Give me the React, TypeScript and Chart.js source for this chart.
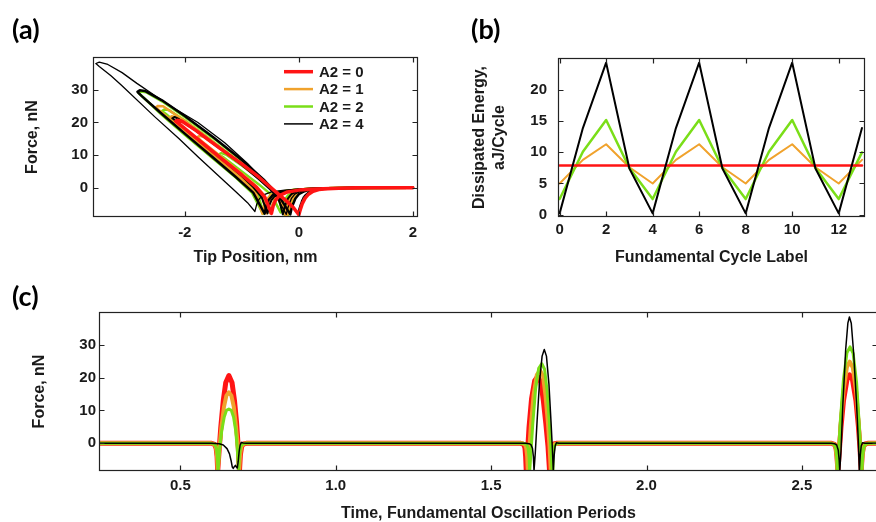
import React, { useEffect, useRef } from 'react';
import { Chart, registerables } from 'chart.js';

Chart.register(...registerables);

const FONT = "'Liberation Sans', Arial, sans-serif";
const INK = '#1a1a1a';
const RED = '#ff1414';
const ORANGE = '#f0a22c';
const GREEN = '#7ade18';
const BLACK = '#000000';

// ---------- Panel (a): force vs tip position loops [x nm, F nN] ----------
const seriesNames = ['A2 = 0', 'A2 = 1', 'A2 = 2', 'A2 = 4'];

const loopA0: number[][] = [
  [2.0, 0], [1.4, -0.02], [1.0, -0.06], [0.7, -0.15], [0.5, -0.3], [0.35, -0.6], [0.25, -1.1], [0.17, -2.0], [0.11, -3.2], [0.06, -4.9], [0.03, -6.5], [0.0, -8.3],
  [-0.1, -6.0], [-0.25, -3.6], [-0.45, -0.6], [-0.7, 3.2], [-1.0, 7.3], [-1.4, 12.3], [-1.8, 17.5], [-2.05, 20.4], [-2.13, 20.7], [-2.16, 20.4],
  [-2.1, 19.6], [-1.8, 15.3], [-1.4, 9.5], [-1.0, 3.9], [-0.75, 0.2], [-0.6, -2.8], [-0.48, -7.9],
  [-0.45, -5.6], [-0.41, -3.9], [-0.34, -2.4], [-0.2, -1.3], [0.0, -0.75], [0.3, -0.4], [0.7, -0.18], [1.2, -0.06], [2.0, 0],
];

const loopA1a: number[][] = [
  [2.0, 0], [1.0, -0.05], [0.5, -0.2], [0.2, -0.5], [0.05, -1.1], [-0.05, -2.0], [-0.11, -3.3], [-0.15, -5.0], [-0.18, -6.6], [-0.2, -8.3],
  [-0.32, -3.0], [-0.48, -0.3], [-0.7, 3.0], [-1.0, 7.0], [-1.4, 12.2], [-1.66, 15.5], [-1.74, 15.9], [-1.78, 15.5],
  [-1.72, 14.5], [-1.4, 10.0], [-1.0, 4.3], [-0.75, 0.5], [-0.6, -2.5], [-0.5, -7.9],
  [-0.47, -5.5], [-0.43, -3.8], [-0.36, -2.3], [-0.22, -1.3], [0.0, -0.7], [0.3, -0.35], [0.8, -0.1], [2.0, 0],
];
const loopA1b: number[][] = [
  [2.0, 0], [1.0, -0.05], [0.5, -0.2], [0.2, -0.5], [0.03, -1.1], [-0.07, -2.0], [-0.13, -3.3], [-0.17, -5.0], [-0.2, -6.6], [-0.22, -8.3],
  [-0.33, -3.3], [-0.48, -0.6], [-0.7, 2.8], [-1.0, 7.0], [-1.4, 12.3], [-1.8, 17.5], [-2.15, 21.6], [-2.23, 21.9], [-2.27, 21.5],
  [-2.2, 20.6], [-1.8, 15.0], [-1.4, 9.2], [-1.0, 3.5], [-0.78, 0.0], [-0.64, -3.0], [-0.56, -7.9],
  [-0.53, -5.5], [-0.49, -3.8], [-0.42, -2.3], [-0.28, -1.3], [-0.05, -0.7], [0.25, -0.35], [0.8, -0.1], [2.0, 0],
];
const loopA1c: number[][] = [
  [2.0, 0], [1.0, -0.05], [0.5, -0.2], [0.2, -0.5], [0.01, -1.1], [-0.09, -2.0], [-0.15, -3.3], [-0.19, -5.0], [-0.22, -6.6], [-0.24, -8.3],
  [-0.38, -2.6], [-0.55, 0.7], [-0.8, 4.5], [-1.2, 9.9], [-1.6, 15.3], [-2.0, 20.5], [-2.38, 25.0], [-2.47, 25.1], [-2.51, 24.6],
  [-2.44, 23.6], [-2.1, 18.6], [-1.7, 12.6], [-1.3, 6.8], [-0.95, 1.8], [-0.75, -1.8], [-0.64, -8.0],
  [-0.61, -5.5], [-0.57, -3.8], [-0.5, -2.3], [-0.36, -1.3], [-0.1, -0.7], [0.2, -0.35], [0.8, -0.1], [2.0, 0],
];

const loopA2a: number[][] = [
  [2.0, 0], [1.0, -0.05], [0.5, -0.2], [0.2, -0.5], [0.05, -1.1], [-0.05, -2.0], [-0.11, -3.3], [-0.15, -5.0], [-0.18, -6.6], [-0.2, -8.3],
  [-0.3, -3.2], [-0.45, -0.6], [-0.7, 3.0], [-1.0, 6.8], [-1.28, 10.2], [-1.36, 10.6], [-1.4, 10.2],
  [-1.33, 9.4], [-1.0, 5.0], [-0.7, 1.0], [-0.48, -2.2], [-0.32, -7.6],
  [-0.29, -5.3], [-0.25, -3.7], [-0.18, -2.2], [-0.05, -1.2], [0.15, -0.65], [0.45, -0.3], [0.9, -0.1], [2.0, 0],
];
const loopA2b: number[][] = [
  [2.0, 0], [1.0, -0.05], [0.5, -0.2], [0.2, -0.5], [0.0, -1.1], [-0.1, -2.0], [-0.16, -3.3], [-0.2, -5.0], [-0.23, -6.6], [-0.25, -8.3],
  [-0.38, -2.5], [-0.55, 0.8], [-0.8, 4.6], [-1.2, 10.0], [-1.6, 15.4], [-2.0, 20.6], [-2.28, 23.8], [-2.36, 24.0], [-2.4, 23.5],
  [-2.33, 22.6], [-2.0, 17.6], [-1.6, 11.6], [-1.2, 5.8], [-0.9, 1.5], [-0.72, -1.8], [-0.62, -7.9],
  [-0.59, -5.5], [-0.55, -3.8], [-0.48, -2.3], [-0.34, -1.3], [-0.1, -0.7], [0.2, -0.35], [0.8, -0.1], [2.0, 0],
];
const loopA2c: number[][] = [
  [2.0, 0], [1.0, -0.05], [0.5, -0.2], [0.2, -0.5], [0.07, -1.1], [-0.03, -2.0], [-0.09, -3.3], [-0.13, -5.0], [-0.16, -6.6], [-0.18, -8.3],
  [-0.36, -2.6], [-0.6, 2.0], [-1.0, 8.3], [-1.5, 15.2], [-2.0, 21.7], [-2.4, 26.5], [-2.68, 29.3], [-2.77, 29.5], [-2.81, 29.0],
  [-2.72, 27.6], [-2.4, 22.3], [-2.0, 16.2], [-1.5, 8.9], [-1.1, 3.0], [-0.82, -1.6], [-0.63, -8.0],
  [-0.6, -5.5], [-0.56, -3.8], [-0.49, -2.3], [-0.35, -1.3], [-0.1, -0.7], [0.2, -0.35], [0.8, -0.1], [2.0, 0],
];

const loopA4a: number[][] = [
  [2.0, 0], [1.0, -0.05], [0.5, -0.2], [0.3, -0.5], [0.18, -1.2], [0.1, -2.4], [0.05, -4.0], [0.02, -5.8], [-0.02, -7.8],
  [0.03, -5.0], [0.08, -2.9], [0.18, -1.4], [0.3, -0.6], [0.6, -0.2], [1.0, -0.05], [2.0, 0],
];
const loopA4b: number[][] = [
  [2.0, 0], [1.0, -0.05], [0.5, -0.2], [0.2, -0.5], [0.03, -1.1], [-0.07, -2.0], [-0.13, -3.3], [-0.17, -5.0], [-0.2, -6.6], [-0.22, -8.2],
  [-0.4, -2.5], [-0.6, 1.8], [-0.9, 7.4], [-1.3, 13.8], [-1.77, 20.0], [-2.18, 24.3], [-2.5, 28.0], [-2.84, 32.0], [-3.1, 35.3], [-3.35, 37.8], [-3.5, 38.5], [-3.56, 38.1],
  [-3.5, 37.2], [-3.3, 34.4], [-3.12, 31.6], [-2.53, 21.8], [-2.1, 15.0], [-1.77, 9.5], [-1.4, 3.5], [-1.1, -1.3], [-0.9, -4.6], [-0.77, -7.3],
  [-0.74, -5.2], [-0.7, -3.6], [-0.62, -2.2], [-0.48, -1.3], [-0.25, -0.75], [0.1, -0.35], [0.6, -0.1], [2.0, 0],
];
const loopA4c: number[][] = [
  [2.0, 0], [1.0, -0.05], [0.5, -0.2], [0.2, -0.5], [0.1, -1.1], [0.0, -2.0], [-0.06, -3.3], [-0.1, -5.0], [-0.13, -6.6], [-0.15, -8.2],
  [-0.35, -2.5], [-0.6, 2.2], [-1.0, 8.5], [-1.5, 15.5], [-2.0, 22.0], [-2.4, 26.8], [-2.7, 29.7], [-2.79, 29.9], [-2.83, 29.4],
  [-2.75, 28.0], [-2.4, 22.6], [-2.0, 16.6], [-1.5, 9.2], [-1.1, 3.2], [-0.8, -1.5], [-0.6, -8.0],
  [-0.57, -5.5], [-0.53, -3.8], [-0.46, -2.3], [-0.32, -1.3], [-0.08, -0.7], [0.2, -0.35], [0.8, -0.1], [2.0, 0],
];
const loopA4d: number[][] = [
  [2.0, 0], [1.0, -0.05], [0.5, -0.2], [0.2, -0.5], [-0.03, -1.1], [-0.13, -2.0], [-0.19, -3.3], [-0.23, -5.0], [-0.26, -6.6], [-0.28, -8.2],
  [-0.35, -3.5], [-0.5, -0.6], [-0.7, 2.6], [-1.0, 7.0], [-1.4, 12.3], [-1.8, 17.4], [-2.1, 21.0], [-2.18, 21.7], [-2.22, 21.3],
  [-2.15, 20.4], [-1.8, 15.2], [-1.4, 9.4], [-1.0, 3.6], [-0.8, 0.2], [-0.65, -3.0], [-0.55, -7.9],
  [-0.52, -5.5], [-0.48, -3.8], [-0.41, -2.3], [-0.27, -1.3], [-0.04, -0.7], [0.25, -0.35], [0.8, -0.1], [2.0, 0],
];

const aXTicks = [-2, 0, 2];
const aXTickLabels = ['-2', '0', '2'];
const aYTicks = [0, 10, 20, 30];
const aYTickLabels = ['0', '10', '20', '30'];

// ---------- Panel (b): dissipated energy per cycle ----------
const cycleLabels = [0, 1, 2, 3, 4, 5, 6, 7, 8, 9, 10, 11, 12, 13];
const energyA2_0 = [7.9, 7.9, 7.9, 7.9, 7.9, 7.9, 7.9, 7.9, 7.9, 7.9, 7.9, 7.9, 7.9, 7.9];
const energyA2_1 = [5.0, 8.8, 11.3, 7.6, 5.0, 8.8, 11.3, 7.6, 5.0, 8.8, 11.3, 7.6, 5.0, 8.8];
const energyA2_2 = [2.5, 10.1, 15.2, 7.5, 2.5, 10.1, 15.2, 7.5, 2.5, 10.1, 15.2, 7.5, 2.5, 10.0];
const energyA2_4 = [0.2, 13.9, 24.4, 7.4, 0.2, 13.9, 24.4, 7.4, 0.2, 13.9, 24.4, 7.4, 0.2, 13.9];
const bXTicks = [0, 2, 4, 6, 8, 10, 12];
const bXTickLabels = ['0', '2', '4', '6', '8', '10', '12'];
const bYTicks = [0, 5, 10, 15, 20];
const bYTickLabels = ['0', '5', '10', '15', '20'];

// ---------- Panel (c): force vs time [t periods, F nN] ----------
const forceTimeA2_0: number[][] = [
  [0.238, 0],
  [0.600, 0], [0.610, -0.3], [0.615, -1.5], [0.618, -4], [0.620, -8.4], [0.624, -3], [0.630, 5], [0.638, 13], [0.646, 18.5], [0.656, 20.6], [0.666, 18.5], [0.674, 13], [0.681, 6], [0.686, -1], [0.690, -8.4], [0.693, -3.5], [0.697, -1], [0.703, -0.2], [0.712, 0],
  [1.595, 0], [1.605, -0.3], [1.609, -1.5], [1.611, -4], [1.613, -8.4], [1.617, -3], [1.622, 5], [1.630, 13.5], [1.640, 19.0], [1.650, 20.3], [1.660, 18.5], [1.668, 13], [1.676, 6], [1.683, -1], [1.688, -8.4], [1.691, -3.5], [1.695, -1], [1.701, -0.2], [1.710, 0],
  [2.595, 0], [2.605, -0.3], [2.610, -1.5], [2.613, -4], [2.616, -8.4], [2.620, -3], [2.626, 5], [2.634, 13], [2.645, 19.3], [2.654, 20.8], [2.663, 19.3], [2.674, 13], [2.682, 5], [2.687, -1.5], [2.691, -8.4], [2.694, -3.5], [2.698, -1], [2.704, -0.2], [2.712, 0],
  [2.745, 0],
];
const forceTimeA2_1: number[][] = [
  [0.238, 0],
  [0.600, 0], [0.610, -0.3], [0.615, -1.5], [0.618, -4], [0.620, -8.4], [0.625, -2], [0.632, 5], [0.640, 11], [0.648, 14.5], [0.656, 15.5], [0.664, 14.5], [0.672, 11], [0.679, 5], [0.685, -1], [0.689, -8.4], [0.692, -3.5], [0.696, -1], [0.702, -0.2], [0.711, 0],
  [1.600, 0], [1.609, -0.3], [1.613, -1.5], [1.616, -4], [1.618, -8.4], [1.622, -3], [1.628, 5.5], [1.637, 15], [1.647, 20.8], [1.657, 22.2], [1.667, 20.5], [1.675, 14.5], [1.683, 6], [1.688, -1], [1.692, -8.4], [1.695, -3.5], [1.699, -1], [1.705, -0.2], [1.714, 0],
  [2.595, 0], [2.605, -0.3], [2.609, -1.5], [2.612, -4], [2.615, -8.4], [2.619, -3], [2.625, 6], [2.634, 16], [2.645, 23.2], [2.654, 24.8], [2.664, 23], [2.675, 15.5], [2.683, 5.5], [2.688, -1.5], [2.692, -8.4], [2.695, -3.5], [2.699, -1], [2.705, -0.2], [2.713, 0],
  [2.745, 0],
];
const forceTimeA2_2: number[][] = [
  [0.238, 0],
  [0.600, 0], [0.611, -0.3], [0.616, -1.5], [0.619, -4], [0.621, -8.4], [0.626, -2], [0.633, 3.8], [0.641, 8], [0.648, 10], [0.656, 10.4], [0.664, 10], [0.671, 8], [0.678, 3.8], [0.683, -1.5], [0.687, -8.4], [0.690, -3.5], [0.694, -1], [0.700, -0.2], [0.709, 0],
  [1.605, 0], [1.614, -0.3], [1.619, -1.5], [1.622, -4], [1.624, -8.4], [1.628, -3], [1.634, 6], [1.643, 16.5], [1.653, 22.8], [1.663, 24.2], [1.672, 22.5], [1.680, 16], [1.687, 7], [1.692, -1], [1.696, -8.4], [1.699, -3.5], [1.703, -1], [1.709, -0.2], [1.718, 0],
  [2.595, 0], [2.604, -0.3], [2.609, -1.5], [2.612, -4], [2.614, -8.4], [2.618, -3], [2.624, 7], [2.634, 19.5], [2.645, 27.5], [2.655, 29.3], [2.665, 27.3], [2.676, 18.5], [2.684, 6.5], [2.689, -1.5], [2.693, -8.4], [2.696, -3.5], [2.700, -1], [2.706, -0.2], [2.714, 0],
  [2.745, 0],
];
const forceTimeA2_4: number[][] = [
  [0.238, 0],
  [0.600, 0], [0.625, -0.1], [0.638, -0.5], [0.650, -1.6], [0.658, -3.2], [0.663, -5.2], [0.667, -7.2], [0.670, -7.6], [0.674, -7.0], [0.677, -6.7], [0.680, -7.2], [0.683, -7.5], [0.686, -5.5], [0.689, -2.5], [0.692, -0.6], [0.696, 0.3], [0.702, 0.1], [0.712, 0],
  [1.610, 0], [1.622, -0.1], [1.628, -0.4], [1.633, -1.5], [1.636, -4], [1.638, -8.4], [1.642, -3], [1.648, 7], [1.656, 19], [1.664, 26.5], [1.671, 28.5], [1.678, 26.5], [1.686, 18], [1.693, 6], [1.697, -1.5], [1.700, -8.4], [1.703, -3.5], [1.706, -0.8], [1.710, 0.2], [1.718, 0],
  [2.595, 0], [2.605, -0.1], [2.612, -0.5], [2.617, -2], [2.620, -5], [2.622, -8.4], [2.626, -2], [2.632, 12], [2.641, 28.5], [2.648, 36.5], [2.653, 38.4], [2.659, 36.5], [2.667, 27], [2.676, 12], [2.682, 0], [2.685, -8.4], [2.688, -3.5], [2.691, -0.8], [2.695, 0.2], [2.703, 0],
  [2.745, 0],
];
const cXTicks = [0.5, 1.0, 1.5, 2.0, 2.5];
const cXTickLabels = ['0.5', '1.0', '1.5', '2.0', '2.5'];
const cYTicks = [0, 10, 20, 30];
const cYTickLabels = ['0', '10', '20', '30'];

// ---------- helpers ----------
type LegendItem = { label: string; color: string; width: number };

function makeFramePlugin(legend?: LegendItem[]) {
  return {
    id: 'frameTicks',
    afterDraw(chart: any) {
      const { ctx, chartArea: a, scales } = chart;
      const L = Math.round(a.left) + 0.5;
      const R = Math.round(a.right) - 0.5;
      const T = Math.round(a.top) + 0.5;
      const B = Math.round(a.bottom) - 0.5;
      const len = 5;
      ctx.save();
      ctx.strokeStyle = '#222';
      ctx.lineWidth = 1.2;
      ctx.strokeRect(L, T, R - L, B - T);
      ctx.beginPath();
      for (const t of scales.x.ticks) {
        const p = Math.round(scales.x.getPixelForValue(t.value)) + 0.5;
        ctx.moveTo(p, B); ctx.lineTo(p, B - len);
        ctx.moveTo(p, T); ctx.lineTo(p, T + len);
      }
      for (const t of scales.y.ticks) {
        const p = Math.round(scales.y.getPixelForValue(t.value)) + 0.5;
        ctx.moveTo(L, p); ctx.lineTo(L + len, p);
        ctx.moveTo(R, p); ctx.lineTo(R - len, p);
      }
      ctx.stroke();
      if (legend) {
        ctx.font = `bold 15px ${FONT}`;
        ctx.textBaseline = 'middle';
        ctx.textAlign = 'left';
        legend.forEach((it, i) => {
          const y = a.top + 14.7 + i * 17.4;
          ctx.strokeStyle = it.color;
          ctx.lineWidth = it.width;
          ctx.beginPath();
          ctx.moveTo(a.right - 134, y);
          ctx.lineTo(a.right - 105, y);
          ctx.stroke();
          ctx.fillStyle = INK;
          ctx.fillText(it.label, a.right - 99, y + 1);
        });
      }
      ctx.restore();
    },
  };
}

type AxesSpec = {
  xMin: number; xMax: number; yMin: number; yMax: number;
  xTicks: number[]; xTickLabels: string[]; yTicks: number[]; yTickLabels: string[];
  xTitle: string | string[]; yTitle: string | string[];
  padTop: number; padRight: number; yAxisWidth: number; xAxisHeight: number;
  xTickPad: number; yTickPad: number; xTitlePad: number; yTitlePad: number; yTitleLineHeight?: number;
};

function makeOptions(s: AxesSpec): any {
  const tickFont = { family: FONT, size: 15, weight: 'bold' as const };
  return {
    responsive: false,
    animation: false,
    events: [],
    layout: { padding: { left: 0, top: s.padTop, right: s.padRight, bottom: 0 } },
    plugins: { legend: { display: false }, tooltip: { enabled: false } },
    scales: {
      x: {
        type: 'linear', min: s.xMin, max: s.xMax,
        afterBuildTicks: (sc: any) => { sc.ticks = s.xTicks.map((v) => ({ value: v })); },
        afterFit: (sc: any) => { sc.height = s.xAxisHeight; },
        grid: { display: false, drawTicks: false },
        border: { display: false },
        ticks: {
          padding: s.xTickPad, color: INK, font: tickFont, autoSkip: false, maxRotation: 0, minRotation: 0,
          callback: (_v: any, i: number) => s.xTickLabels[i],
        },
        title: {
          display: true, text: s.xTitle, color: INK,
          font: { family: FONT, size: 16, weight: 'bold' },
          padding: { top: 0, bottom: s.xTitlePad },
        },
      },
      y: {
        type: 'linear', min: s.yMin, max: s.yMax,
        afterBuildTicks: (sc: any) => { sc.ticks = s.yTicks.map((v) => ({ value: v })); },
        afterFit: (sc: any) => { sc.width = s.yAxisWidth; },
        grid: { display: false, drawTicks: false },
        border: { display: false },
        ticks: {
          padding: s.yTickPad, color: INK, font: tickFont, autoSkip: false,
          callback: (_v: any, i: number) => s.yTickLabels[i],
        },
        title: {
          display: true, text: s.yTitle, color: INK,
          font: { family: FONT, size: 16, weight: 'bold', lineHeight: s.yTitleLineHeight ?? 1.2 },
          padding: { top: s.yTitlePad, bottom: 0 },
        },
      },
    },
  };
}

function series(points: number[][], color: string, width: number, order: number) {
  return {
    data: points.map(([x, y]) => ({ x, y })),
    borderColor: color,
    backgroundColor: color,
    borderWidth: width,
    showLine: true,
    pointRadius: 0,
    fill: false,
    tension: 0,
    borderJoinStyle: 'round',
    borderCapStyle: 'round',
    order,
  };
}

function configA(): any {
  const legend: LegendItem[] = [
    { label: seriesNames[0], color: RED, width: 3.5 },
    { label: seriesNames[1], color: ORANGE, width: 2.5 },
    { label: seriesNames[2], color: GREEN, width: 2.5 },
    { label: seriesNames[3], color: BLACK, width: 1.5 },
  ];
  return {
    type: 'scatter',
    data: {
      datasets: [
        series(loopA2a, GREEN, 2.5, 3),
        series(loopA2b, GREEN, 2.5, 3),
        series(loopA2c, GREEN, 2.5, 3),
        series(loopA1a, ORANGE, 2.5, 2),
        series(loopA1b, ORANGE, 2.5, 2),
        series(loopA1c, ORANGE, 2.5, 2),
        series(loopA4a, BLACK, 1.5, 1),
        series(loopA4b, BLACK, 1.3, 1),
        series(loopA4c, BLACK, 2.5, 1),
        series(loopA4d, BLACK, 2, 1),
        series(loopA0, RED, 3.5, 0),
      ],
    },
    options: makeOptions({
      xMin: -3.61, xMax: 2.09, yMin: -9, yMax: 40.1,
      xTicks: aXTicks, xTickLabels: aXTickLabels, yTicks: aYTicks, yTickLabels: aYTickLabels,
      xTitle: 'Tip Position, nm', yTitle: 'Force, nN',
      padTop: 57, padRight: 12, yAxisWidth: 93, xAxisHeight: 53,
      xTickPad: 6.5, yTickPad: 5, xTitlePad: 2.4, yTitlePad: 23.4,
    }),
    plugins: [makeFramePlugin(legend)],
  };
}

function configB(): any {
  const pts = (vals: number[]) => cycleLabels.map((c, i) => [c, vals[i]]);
  return {
    type: 'scatter',
    data: {
      datasets: [
        series(pts(energyA2_0), RED, 2.5, 1),
        series(pts(energyA2_1), ORANGE, 2, 3),
        series(pts(energyA2_2), GREEN, 2.5, 2),
        series(pts(energyA2_4), BLACK, 2, 0),
      ],
    },
    options: makeOptions({
      xMin: -0.07, xMax: 13.13, yMin: -0.38, yMax: 25.15,
      xTicks: bXTicks, xTickLabels: bXTickLabels, yTicks: bYTicks, yTickLabels: bYTickLabels,
      xTitle: 'Fundamental Cycle Label', yTitle: ['Dissipated Energy,', 'aJ/Cycle'],
      padTop: 58, padRight: 11, yAxisWidth: 128, xAxisHeight: 53,
      xTickPad: 3.5, yTickPad: 11, xTitlePad: 2.4, yTitlePad: 40, yTitleLineHeight: 1.25,
    }),
    plugins: [makeFramePlugin()],
  };
}

function configC(): any {
  return {
    type: 'scatter',
    data: {
      datasets: [
        series(forceTimeA2_0, RED, 5, 3),
        series(forceTimeA2_1, ORANGE, 4, 2),
        series(forceTimeA2_2, GREEN, 3, 1),
        series(forceTimeA2_4, BLACK, 1.5, 0),
      ],
    },
    options: makeOptions({
      xMin: 0.238, xMax: 2.745, yMin: -8.4, yMax: 39.9,
      xTicks: cXTicks, xTickLabels: cXTickLabels, yTicks: cYTicks, yTickLabels: cYTickLabels,
      xTitle: 'Time, Fundamental Oscillation Periods', yTitle: 'Force, nN',
      padTop: 42, padRight: 6, yAxisWidth: 99, xAxisHeight: 59,
      xTickPad: 5.5, yTickPad: 3, xTitlePad: 6.4, yTitlePad: 30.4,
    }),
    plugins: [makeFramePlugin()],
  };
}

function Panel(props: { left: number; top: number; width: number; height: number; make: () => any }) {
  const ref = useRef<HTMLCanvasElement>(null);
  useEffect(() => {
    const chart = new Chart(ref.current as HTMLCanvasElement, props.make());
    return () => chart.destroy();
  }, []);
  return (
    <canvas
      ref={ref}
      width={props.width}
      height={props.height}
      style={{ position: 'absolute', left: props.left, top: props.top, width: props.width, height: props.height }}
    />
  );
}

const panelLabelStyle: React.CSSProperties = {
  position: 'absolute',
  fontFamily: 'Lato, "Open Sans", sans-serif',
  fontWeight: 700,
  fontSize: 27,
  lineHeight: '27px',
  color: '#000',
};

export default function App() {
  return (
    <div style={{ position: 'absolute', left: 0, top: 0, width: 876, height: 522, overflow: 'hidden', background: '#fff' }}>
      <Panel left={0} top={0} width={430} height={270} make={configA} />
      <Panel left={430} top={0} width={446} height={270} make={configB} />
      <Panel left={0} top={270} width={884} height={260} make={configC} />
      <div style={{ ...panelLabelStyle, left: 12, top: 15 }}>(a)</div>
      <div style={{ ...panelLabelStyle, left: 471, top: 15 }}>(b)</div>
      <div style={{ ...panelLabelStyle, left: 12, top: 282 }}>(c)</div>
    </div>
  );
}
